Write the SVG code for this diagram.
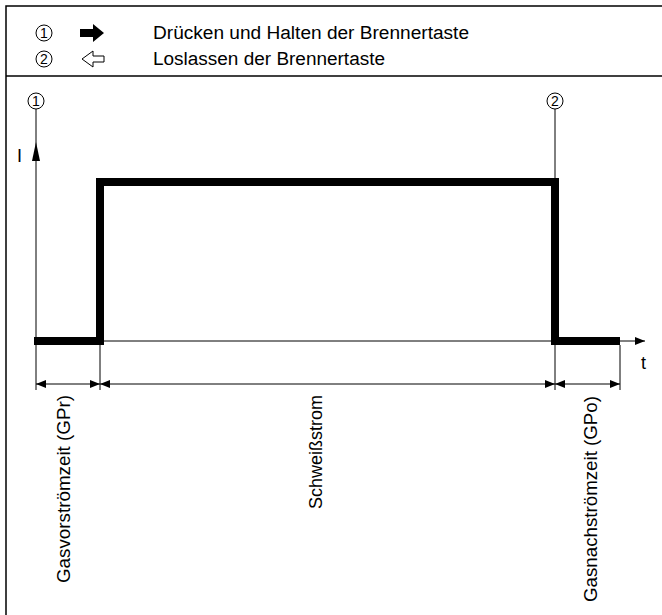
<svg xmlns="http://www.w3.org/2000/svg" width="662" height="615" viewBox="0 0 662 615">
<style>
.frame{stroke:#000;stroke-width:1.5;fill:none}
.thin{stroke:#000;stroke-width:1;fill:none}
.pulse{stroke:#000;stroke-width:8;fill:none;stroke-linejoin:miter;stroke-linecap:square}
.txt{font-family:"Liberation Sans",Arial,sans-serif;font-size:18px;fill:#000}
.lbl{font-family:"Liberation Sans",Arial,sans-serif;font-size:18px;fill:#000}
.num{font-family:"Liberation Sans",Arial,sans-serif;font-size:14px;fill:#000;text-anchor:middle}
.circ{stroke:#000;stroke-width:1;fill:#fff}
</style>
<defs>
<marker id="ah" viewBox="0 0 10 8" refX="10" refY="4" markerWidth="10" markerHeight="8" markerUnits="userSpaceOnUse" orient="auto-start-reverse">
<path d="M0,0 L10,4 L0,8 Z" fill="#000"/>
</marker>
</defs>
<rect width="662" height="615" fill="#fff"/>
<g id="frame">
<path class="frame" d="M6,620 V6 H670"/>
<path class="frame" d="M6,76 H670"/>
</g>
<g id="legend">
<circle class="circ" cx="44" cy="33" r="8"/>
<text class="num" x="44" y="38">1</text>
<path d="M80,29 H93 V24 L104,33 L93,42 V37 H80 Z" fill="#000"/>
<text class="txt" x="153" y="39" textLength="316" lengthAdjust="spacingAndGlyphs">Drücken und Halten der Brennertaste</text>
<circle class="circ" cx="44" cy="59" r="8"/>
<text class="num" x="44" y="64">2</text>
<path d="M104,56 H93 V51 L82,59 L93,67 V62 H104 Z" fill="#fff" stroke="#000" stroke-width="1"/>
<text class="txt" x="153" y="65" textLength="232" lengthAdjust="spacingAndGlyphs">Loslassen der Brennertaste</text>
</g>
<g id="connectors">
<line class="thin" x1="36" y1="109" x2="36" y2="390" />
<path d="M36,142 L40,161 L32,161 Z" fill="#000"/>
<line class="thin" x1="555" y1="109" x2="555" y2="182"/>
<line class="thin" x1="36" y1="341" x2="645" y2="341" marker-end="url(#ah)"/>
<line class="thin" x1="100" y1="345" x2="100" y2="390"/>
<line class="thin" x1="555" y1="345" x2="555" y2="390"/>
<line class="thin" x1="620" y1="345" x2="620" y2="390"/>
<line class="thin" x1="36" y1="384" x2="100" y2="384" marker-start="url(#ah)" marker-end="url(#ah)"/>
<line class="thin" x1="100" y1="384" x2="555" y2="384" marker-start="url(#ah)" marker-end="url(#ah)"/>
<line class="thin" x1="555" y1="384" x2="620" y2="384" marker-start="url(#ah)" marker-end="url(#ah)"/>
</g>
<g id="pulse">
<path class="pulse" d="M38,341 H100 V182 H555 V341 H616"/>
</g>
<g id="markers">
<circle class="circ" cx="36" cy="101" r="8"/>
<text class="num" x="36" y="106">1</text>
<circle class="circ" cx="555" cy="101" r="8"/>
<text class="num" x="555" y="106">2</text>
<text class="lbl" x="17" y="162">I</text>
<text class="lbl" x="641" y="369">t</text>
</g>
<g id="labels">
<text class="lbl" transform="translate(70,583) rotate(-90)" textLength="188" lengthAdjust="spacingAndGlyphs">Gasvorströmzeit (GPr)</text>
<text class="lbl" transform="translate(322,452) rotate(-90)" text-anchor="middle">Schweißstrom</text>
<text class="lbl" transform="translate(597,602) rotate(-90)" textLength="206" lengthAdjust="spacingAndGlyphs">Gasnachströmzeit (GPo)</text>
</g>
</svg>
